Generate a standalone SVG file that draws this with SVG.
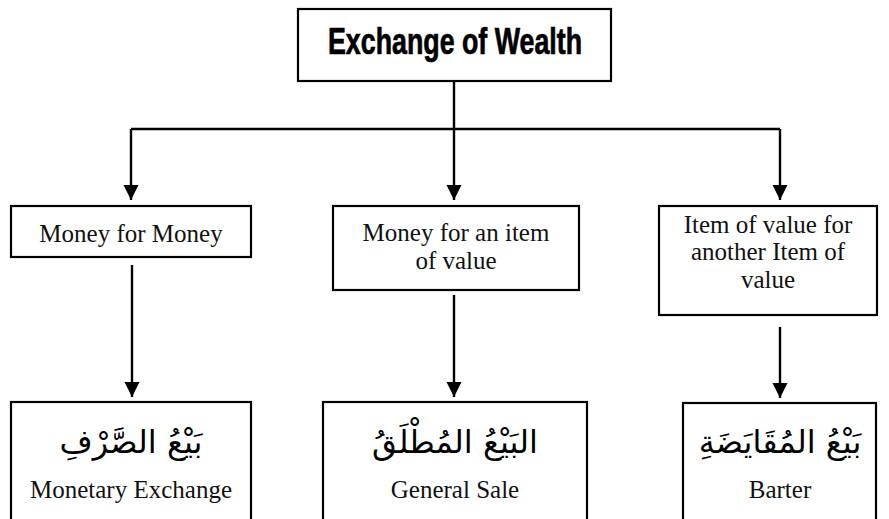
<svg xmlns="http://www.w3.org/2000/svg" width="889" height="519" viewBox="0 0 889 519">
<defs>
<marker id="ah" markerUnits="userSpaceOnUse" markerWidth="16" markerHeight="16" refX="15" refY="7.5" orient="auto">
<path d="M0,0 L15,7.5 L0,15 Z" fill="#000"/>
</marker>
<style>
.box{fill:#fff;stroke:#000;stroke-width:2.2}
.lbl{font-family:"Liberation Serif","Times New Roman",serif;font-size:25px;fill:#111;text-anchor:middle}
.ar{font-family:"DejaVu Sans","Noto Sans",sans-serif;font-size:32px;fill:#000;text-anchor:middle}
.ttl{font-family:"Liberation Sans Narrow","Liberation Sans",Arial,sans-serif;font-weight:bold;font-size:36px;font-stretch:condensed;fill:#000;stroke:#000;stroke-width:0.7;text-anchor:middle}
.ln{fill:none;stroke:#000;stroke-width:2.4}
</style>
</defs>
<g id="connectors">
<path class="ln" d="M454,81 V129"/>
<path class="ln" d="M131,129 H780"/>
<path class="ln" d="M131,129 V200" marker-end="url(#ah)"/>
<path class="ln" d="M454,129 V200" marker-end="url(#ah)"/>
<path class="ln" d="M780,129 V200" marker-end="url(#ah)"/>
<path class="ln" d="M132,265 V397" marker-end="url(#ah)"/>
<path class="ln" d="M454,295 V397" marker-end="url(#ah)"/>
<path class="ln" d="M780,327 V398" marker-end="url(#ah)"/>
</g>
<g id="root">
<rect class="box" x="298" y="9" width="313" height="72"/>
<text class="ttl" x="455" y="54" textLength="254" lengthAdjust="spacingAndGlyphs">Exchange of Wealth</text>
</g>
<g id="money-for-money">
<rect class="box" x="11" y="206" width="240" height="51"/>
<text class="lbl" x="131" y="242">Money for Money</text>
</g>
<g id="money-for-item">
<rect class="box" x="333" y="206" width="246" height="84"/>
<text class="lbl" x="456" y="241">Money for an item</text>
<text class="lbl" x="456" y="269">of value</text>
</g>
<g id="item-for-item">
<rect class="box" x="659" y="206" width="218" height="109"/>
<text class="lbl" x="768" y="233">Item of value for</text>
<text class="lbl" x="768" y="260">another Item of</text>
<text class="lbl" x="768" y="288">value</text>
</g>
<g id="monetary-exchange">
<rect class="box" x="11" y="402" width="240" height="130"/>
<text class="ar" x="131" y="453" direction="rtl">بَيْعُ الصَّرْفِ</text>
<text class="lbl" x="131" y="498">Monetary Exchange</text>
</g>
<g id="general-sale">
<rect class="box" x="323" y="402" width="264" height="130"/>
<text class="ar" x="455" y="453" direction="rtl">البَيْعُ المُطْلَقُ</text>
<text class="lbl" x="455" y="498">General Sale</text>
</g>
<g id="barter">
<rect class="box" x="683" y="403" width="193" height="130"/>
<text class="ar" x="780" y="453" direction="rtl">بَيْعُ المُقَايَضَةِ</text>
<text class="lbl" x="780" y="498">Barter</text>
</g>
</svg>
